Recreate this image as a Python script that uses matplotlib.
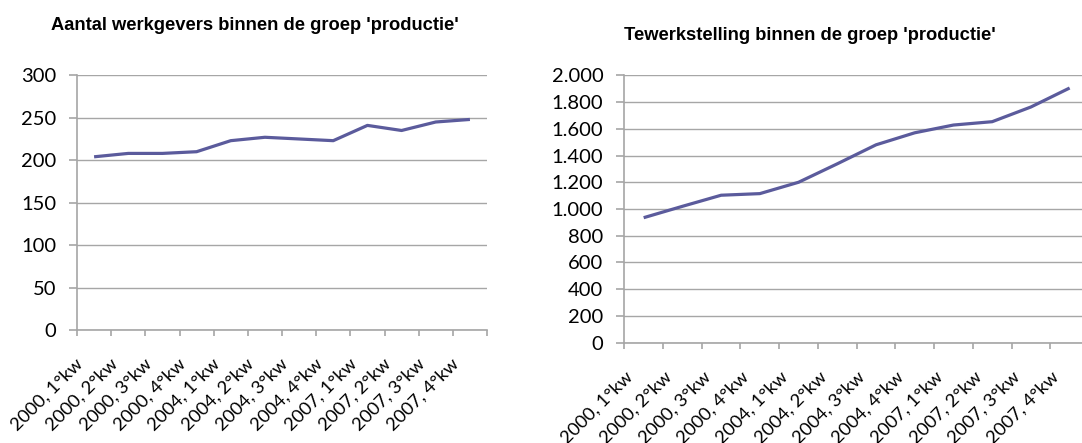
import matplotlib
matplotlib.use("Agg")
import matplotlib.pyplot as plt
from matplotlib.ticker import FixedLocator, FuncFormatter
from matplotlib.transforms import ScaledTranslation
import numpy as np

categories = ["2000, 1°kw", "2000, 2°kw", "2000, 3°kw", "2000, 4°kw",
              "2004, 1°kw", "2004, 2°kw", "2004, 3°kw", "2004, 4°kw",
              "2007, 1°kw", "2007, 2°kw", "2007, 3°kw", "2007, 4°kw"]
werkgevers = [204, 208, 208, 210, 223, 227, 225, 223, 241, 235, 245, 248]
tewerkstelling = [935, 1020, 1103, 1115, 1200, 1338, 1480, 1570, 1628, 1653, 1763, 1905]

title_left = "Aantal werkgevers binnen de groep 'productie'"
title_right = "Tewerkstelling binnen de groep 'productie'"
yticks_left = [0, 50, 100, 150, 200, 250, 300]
yticks_right = [0, 200, 400, 600, 800, 1000, 1200, 1400, 1600, 1800, 2000]

LINE = "#5b5b9c"
GRID = "#a6a6a6"
TICKFONT = "Lato"

W, H = 1082, 443
fig = plt.figure(figsize=(W / 100, H / 100), dpi=100)

def px_axes(x0, x1, y0, y1):
    return fig.add_axes([x0 / W, (H - y1) / H, (x1 - x0) / W, (y1 - y0) / H])

def style(ax, yticks, fmt):
    n = len(categories)
    x = np.arange(n)
    ax.set_xlim(-0.5, n - 0.5)
    ax.set_ylim(yticks[0], yticks[-1])
    ax.set_yticks(yticks)
    ax.yaxis.set_major_formatter(FuncFormatter(fmt))
    ax.grid(axis="y", color=GRID, linewidth=1.0)
    ax.set_axisbelow(True)
    for s in ["top", "right"]:
        ax.spines[s].set_visible(False)
    for s in ["left", "bottom"]:
        ax.spines[s].set_color(GRID)
        ax.spines[s].set_linewidth(1.2)
    ax.xaxis.set_major_locator(FixedLocator(np.arange(-0.5, n, 1.0)))
    ax.xaxis.set_minor_locator(FixedLocator(x))
    ax.tick_params(axis="x", which="major", length=4, color=GRID, width=1.2, labelbottom=False)
    ax.tick_params(axis="x", which="minor", length=0, pad=0)
    ax.set_xticks(x, minor=True)
    ax.set_xticklabels(categories, minor=True, rotation=45, ha="right",
                       rotation_mode="anchor", fontsize=13.3, family=TICKFONT, color="#000000")
    off = ScaledTranslation(-19 / 100, -26 / 100, fig.dpi_scale_trans)
    for lab in ax.xaxis.get_minorticklabels():
        lab.set_transform(lab.get_transform() + off)
    ax.tick_params(axis="y", length=6, color=GRID, width=1.2, pad=9)
    for lab in ax.get_yticklabels():
        lab.set_fontfamily(TICKFONT)
        lab.set_fontsize(14.5)

ax1 = px_axes(77, 487, 75.3, 330)
ax1.plot(np.arange(len(categories)), werkgevers, color=LINE, linewidth=2.3, solid_capstyle="butt")
style(ax1, yticks_left, lambda v, p: f"{int(v)}")

ax2 = px_axes(624.3, 1089, 75.3, 342.7)
ax2.plot(np.arange(len(categories)), tewerkstelling, color=LINE, linewidth=2.3, solid_capstyle="butt")
style(ax2, yticks_right, lambda v, p: f"{int(v):,}".replace(",", "."))

fig.text(255 / W, 1 - 25 / H, title_left, ha="center", va="center",
         fontsize=13.2, fontweight="bold", family="Liberation Sans")
fig.text(810 / W, 1 - 35 / H, title_right, ha="center", va="center",
         fontsize=13.2, fontweight="bold", family="Liberation Sans")

fig.savefig("out.png", dpi=100)
